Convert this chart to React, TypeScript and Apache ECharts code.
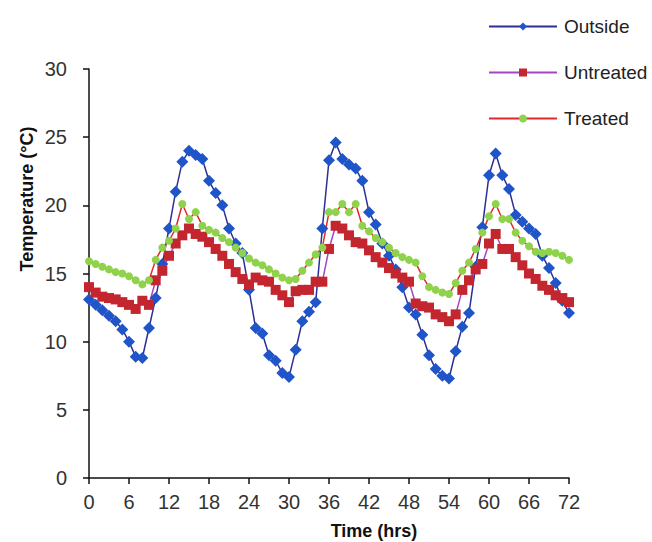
import React, { useEffect, useRef } from "react";
import * as echarts from "echarts";

const hours = [
  0, 1, 2, 3, 4, 5, 6, 7, 8, 9, 10, 11, 12, 13, 14, 15, 16, 17, 18, 19, 20, 21, 22, 23, 24,
  25, 26, 27, 28, 29, 30, 31, 32, 33, 34, 35, 36, 37, 38, 39, 40, 41, 42, 43, 44, 45, 46, 47, 48,
  49, 50, 51, 52, 53, 54, 55, 56, 57, 58, 59, 60, 61, 62, 63, 64, 65, 66, 67, 68, 69, 70, 71, 72,
];

const outside = [
  13.1, 12.7, 12.3, 11.9, 11.5, 10.9, 10.0, 8.9, 8.8, 11.0,
  13.2, 15.7, 18.3, 21.0, 23.2, 24.0, 23.7, 23.4, 21.8, 20.9,
  20.0, 18.3, 17.2, 16.5, 13.8, 11.0, 10.6, 9.0, 8.6, 7.7,
  7.4, 9.4, 11.5, 12.2, 12.9, 18.3, 23.3, 24.6, 23.4, 23.0,
  22.7, 21.8, 19.5, 18.6, 17.2, 16.3, 15.3, 14.0, 12.5, 12.0,
  10.5, 9.0, 8.0, 7.5, 7.3, 9.3, 11.1, 12.1, 15.5, 18.4,
  22.2, 23.8, 22.2, 21.2, 19.3, 18.8, 18.3, 17.9, 16.3, 15.4,
  14.3, 13.0, 12.1,
];

const untreated = [
  14.0, 13.6, 13.3, 13.2, 13.1, 12.9, 12.7, 12.4, 13.0, 12.7,
  14.5, 15.2, 16.3, 17.2, 17.8, 18.3, 17.9, 17.7, 17.3, 16.8,
  16.3, 15.7, 15.1, 14.6, 14.2, 14.7, 14.5, 14.4, 13.8, 13.4,
  12.9, 13.7, 13.8, 13.8, 14.4, 14.4, 16.8, 18.5, 18.3, 17.8,
  17.3, 17.2, 16.7, 16.2, 15.8, 15.4, 15.0, 14.7, 14.4, 12.8,
  12.6, 12.5, 12.0, 11.8, 11.5, 12.0, 13.8, 14.5, 15.3, 15.7,
  17.2, 17.9, 16.8, 16.8, 16.2, 15.6, 15.0, 14.6, 14.1, 13.8,
  13.4, 13.2, 12.9,
];

const treated = [
  15.9, 15.7, 15.5, 15.3, 15.1, 15.0, 14.8, 14.5, 14.2, 14.5,
  16.0, 16.9, 17.4, 18.3, 20.1, 19.0, 19.5, 18.5, 18.2, 18.0,
  17.6, 17.3, 16.9, 16.5, 16.1, 15.8, 15.6, 15.3, 15.0, 14.7,
  14.5, 14.6, 15.2, 15.8, 16.4, 16.9, 19.5, 19.5, 20.1, 19.5,
  20.1, 18.5, 18.1, 17.6, 17.3, 16.9, 16.5, 16.2, 16.0, 15.8,
  14.8, 14.0, 13.8, 13.6, 13.5, 14.3, 15.2, 15.8, 16.8, 18.0,
  19.2, 20.1, 19.0, 19.0, 18.0, 17.4, 17.0, 16.6, 16.5, 16.6,
  16.5, 16.3, 16.0,
];

const seriesNames = ["Outside", "Untreated", "Treated"];
const FONT = "'Liberation Sans', Arial, sans-serif";

function pairs(vals: number[]) {
  return hours.map((h, i) => [h, vals[i]]);
}

export default function App() {
  const ref = useRef<HTMLDivElement>(null);
  useEffect(() => {
    if (!ref.current) return;
    const chart = echarts.init(ref.current, undefined, { renderer: "svg" });
    chart.setOption({
      animation: false,
      backgroundColor: "#ffffff",
      textStyle: { fontFamily: FONT },
      grid: { left: 89, right: 83, top: 69, bottom: 64, containLabel: false },
      legend: {
        orient: "vertical",
        left: 483,
        top: 12,
        itemWidth: 68,
        itemHeight: 10,
        itemGap: 27,
        data: seriesNames,
        textStyle: { fontSize: 19, color: "#222", fontFamily: FONT, padding: [0, 0, 0, 2] },
      },
      xAxis: {
        type: "value",
        min: 0,
        max: 72,
        interval: 6,
        axisLine: { show: true, lineStyle: { color: "#111", width: 1.5 } },
        axisTick: { show: true, inside: false, length: 6, lineStyle: { color: "#111", width: 1.5 } },
        axisLabel: { fontSize: 20, color: "#333", margin: 14, fontFamily: FONT },
        splitLine: { show: false },
      },
      yAxis: {
        type: "value",
        min: 0,
        max: 30,
        interval: 5,
        axisLine: { show: true, lineStyle: { color: "#111", width: 1.5 } },
        axisTick: { show: true, inside: false, length: 6, lineStyle: { color: "#111", width: 1.5 } },
        axisLabel: { fontSize: 20, color: "#333", margin: 22, fontFamily: FONT },
        splitLine: { show: false },
      },
      graphic: [
        {
          type: "text",
          x: 27,
          y: 199,
          rotation: Math.PI / 2,
          style: {
            text: "Temperature (°C)",
            fontSize: 18,
            fontWeight: "bold",
            fontFamily: FONT,
            fill: "#111",
            textAlign: "center",
            textVerticalAlign: "middle",
          },
        },
        {
          type: "text",
          x: 374,
          y: 531,
          style: {
            text: "Time (hrs)",
            fontSize: 18,
            fontWeight: "bold",
            fontFamily: FONT,
            fill: "#111",
            textAlign: "center",
            textVerticalAlign: "middle",
          },
        },
      ],
      series: [
        {
          name: "Outside",
          type: "line",
          data: pairs(outside),
          symbol: "diamond",
          symbolSize: 12,
          lineStyle: { color: "#2b2f96", width: 1.5 },
          itemStyle: { color: "#1f55c8" },
        },
        {
          name: "Untreated",
          type: "line",
          data: pairs(untreated),
          symbol: "rect",
          symbolSize: 10,
          lineStyle: { color: "#a544c4", width: 1.5 },
          itemStyle: { color: "#c3262e" },
        },
        {
          name: "Treated",
          type: "line",
          data: pairs(treated),
          symbol: "circle",
          symbolSize: 8,
          lineStyle: { color: "#e4262a", width: 1.5 },
          itemStyle: { color: "#8fd24c" },
        },
      ],
    });
    return () => chart.dispose();
  }, []);
  return (
    <div
      ref={ref}
      style={{ position: "fixed", left: 0, top: 0, width: 652, height: 542, background: "#fff" }}
    />
  );
}
